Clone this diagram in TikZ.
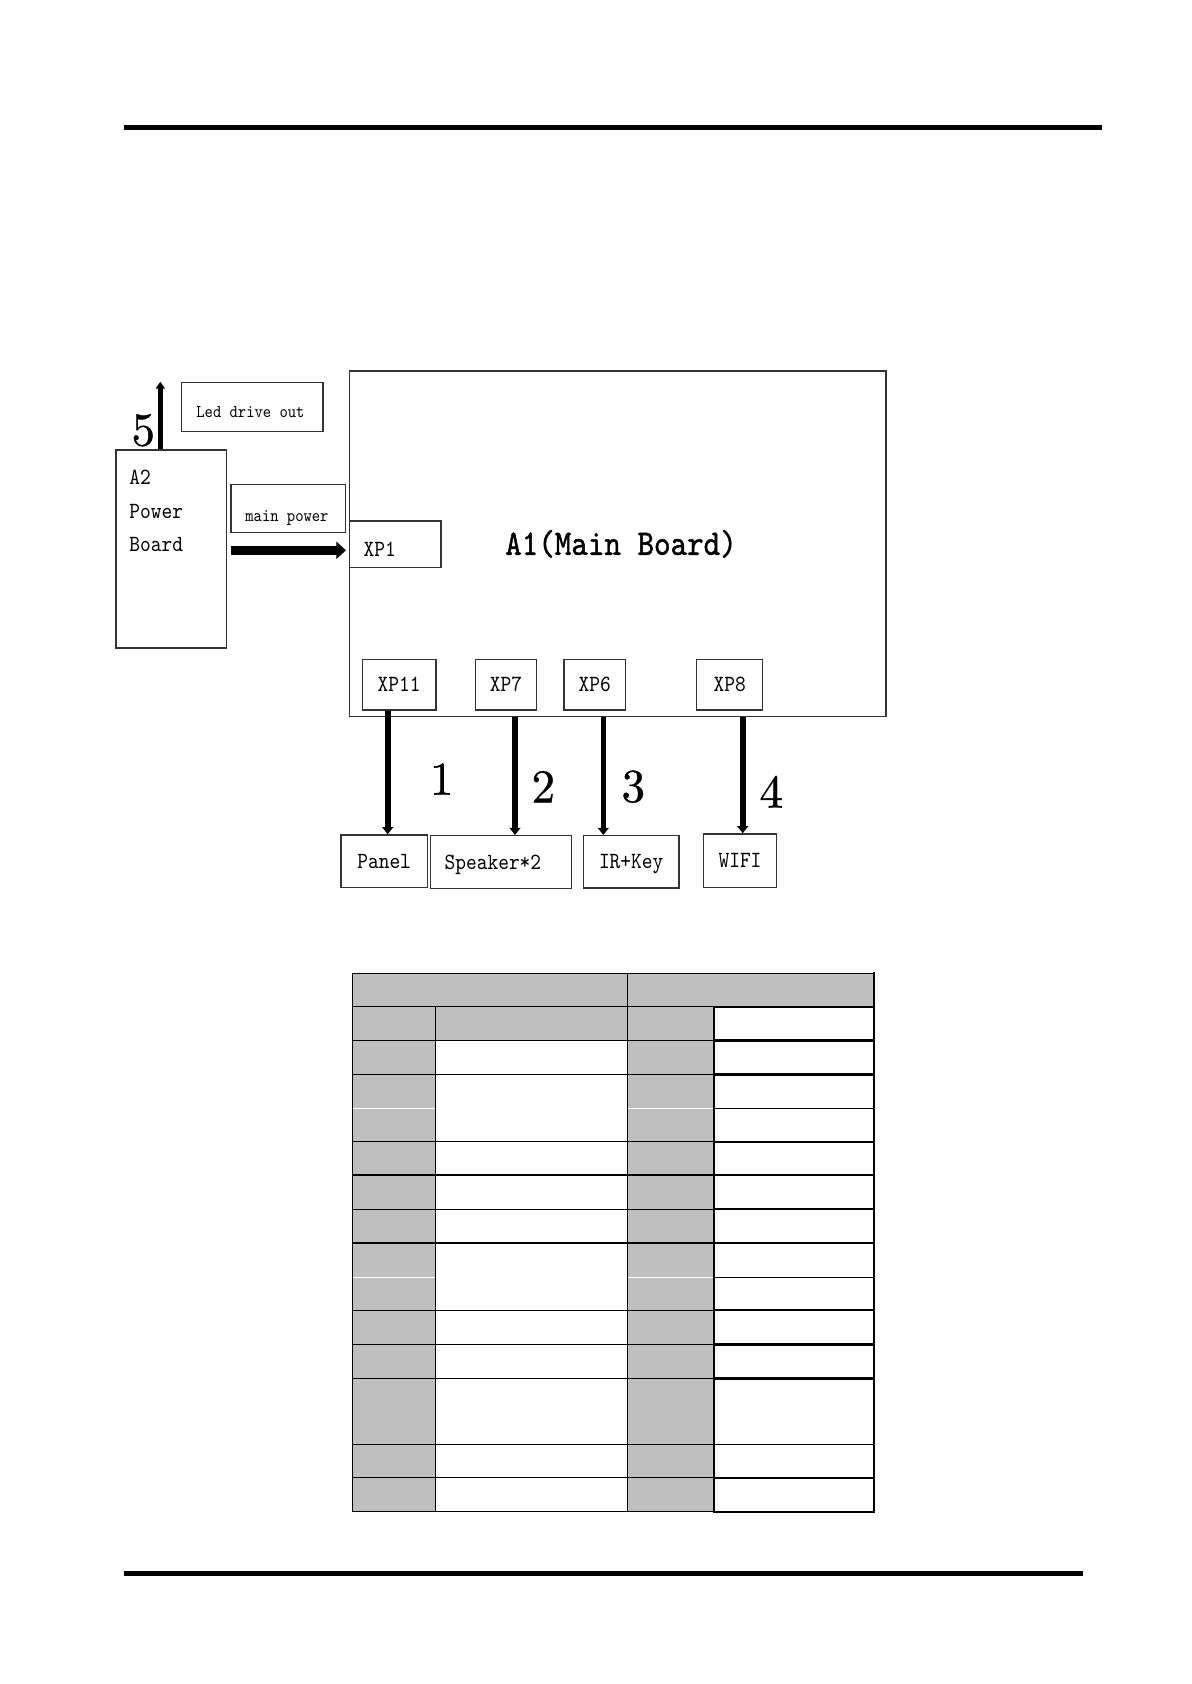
\documentclass[tikz,border=0pt]{standalone}
\usepackage{fontspec}
\usetikzlibrary{arrows.meta}
\newfontfamily\simfont[Extension=.otf,FakeStretch=0.88]{lmmono10-regular}
\newfontfamily\simbold[Extension=.otf,FakeStretch=0.88,FakeBold=1.2]{lmmono10-regular}
\newfontfamily\numfont[Extension=.otf,FakeBold=0.8]{lmroman10-regular}
\newcommand\fsz[1]{\fontsize{#1pt}{#1pt}\selectfont}
\definecolor{cellgray}{RGB}{191,191,191}

\begin{document}
\begin{tikzpicture}[
    x=0.5pt, y=-0.5pt,
    box/.style={draw=black!80, line width=0.7pt, inner sep=0pt, text depth=0pt,
      font=\simfont\fsz{11.6}},
    lab/.style={inner sep=0pt, anchor=base west, font=\simfont\fsz{11.6}},
    small/.style={lab, font=\simfont\fsz{9}},
    num/.style={inner sep=0pt, font=\numfont\fsz{23.5}},
    wire/.style={line width=2.8pt, -{Triangle[length=3.6pt,width=5.4pt]}},
    upwire/.style={line width=2.4pt, -{Triangle[length=3.5pt,width=4.6pt]}},
    fatwire/.style={line width=4.7pt, -{Triangle[length=4.8pt,width=8.4pt]}},
    rule/.style={line width=2.5pt},
    tline/.style={line width=0.6pt},
    tthick/.style={line width=1.1pt}
  ]
  \useasboundingbox (0,0) rectangle (1191,1684);

  \draw[rule] (123.5,127.5) -- (1102,127.5);
  \draw[rule] (123.5,1573.4) -- (1082.6,1573.4);

  % boards
  \node[box, minimum width=268.15pt, minimum height=172.85pt] (a1) at (617.85,543.85) {};
  \node[inner sep=0pt, font=\simbold\fsz{17.9}] (a1txt) at (621,543.85) {A1(Main Board)};
  \node[box, minimum width=55.3pt, minimum height=99pt] (a2) at (171.3,549) {};
  \node[lab] (a2l1) at (129,484) {A2};
  \node[lab] (a2l2) at (129,518.3) {Power};
  \node[lab] (a2l3) at (129,551) {Board};

  \node[box, minimum width=70.65pt, minimum height=24.5pt] (led) at (252.35,407.2) {};
  \node[small] (ledtxt) at (196,418) {Led drive out};
  \node[box, minimum width=57.35pt, minimum height=23.8pt] (pwr) at (288.35,508.5) {};
  \node[small] (pwrtxt) at (245,521) {main power};

  % connectors on A1
  \node[box, minimum width=45.65pt, minimum height=23.15pt] (xp1) at (395.35,544.15) {};
  \node[lab] (xp1txt) at (363.3,556.7) {XP1};
  \node[box, minimum width=36.85pt, minimum height=25.35pt] (xp11) at (399.15,684.65) {XP11};
  \node[box, minimum width=30.7pt, minimum height=25.35pt] (xp7) at (506,684.65) {XP7};
  \node[box, minimum width=30.65pt, minimum height=25.35pt] (xp6) at (594.65,684.65) {XP6};
  \node[box, minimum width=33pt, minimum height=25.35pt] (xp8) at (729.7,684.65) {XP8};

  % loads
  \node[box, minimum width=43.15pt, minimum height=26.15pt] (panel) at (384.15,861.15) {Panel};
  \node[box, minimum width=70.5pt, minimum height=26.3pt, text width=56.5pt, align=left]
    (spk) at (501.2,862) {Speaker*2};
  \node[box, minimum width=47.85pt, minimum height=26.15pt] (irk) at (631.15,861.85) {IR+Key};
  \node[box, minimum width=36.7pt, minimum height=26.65pt] (wifi) at (740,860.65) {WIFI};

  \coordinate (ledtop) at (160.3,381.7);
  \draw[upwire] (a2.north -| ledtop) -- (ledtop);
  \draw[fatwire, shorten <=1.7pt, shorten >=1.5pt] (a2.east |- 0,550.3) -- (xp1.west |- 0,550.3);
  \foreach \x/\s/\t in {387.7/xp11/panel, 515/a1/spk, 603.3/a1/irk, 742.7/a1/wifi}
    \draw[wire] (\x,0 |- \s.south) -- (\x,0 |- \t.north);

  \node[num] (n1) at (441.7,779) {1};
  \node[num] (n2) at (543.3,786.7) {2};
  \node[num] (n3) at (633.3,786.7) {3};
  \node[num] (n4) at (771.3,791.7) {4};
  \node[num] (n5) at (143.3,430.3) {5};

  % table
  \fill[cellgray] (352.7,973.3) rectangle (874,1006.8);
  \fill[cellgray] (352.7,1006.8) rectangle (713.7,1040.5);
  \fill[cellgray] (352.7,1040.5) rectangle (435.3,1511.7);
  \fill[cellgray] (627.5,1040.5) rectangle (713.7,1511.7);
  \foreach \y in {1108.5,1277.5}
    \draw[white, line width=0.8pt] (352.7,\y) -- (435.3,\y) (627.5,\y) -- (713.7,\y);
  \draw[tline] (352.7,973.3) -- (874,973.3);
  \foreach \y in {1006.8,1040.5,1074.5,1141.7,1175,1209.3,1243,1310.3,1344.5,1378.5,1444.3,1477.7,1511.7}
    \draw[tline] (352.7,\y) -- (713.7,\y);
  \draw[tline] (352.7,973.3) -- (352.7,1511.7) (435.3,1006.8) -- (435.3,1511.7)
    (627.5,973.3) -- (627.5,1511.7);
  \foreach \y in {1006.8,1040.5,1074.5,1141.7,1175,1209.3,1243,1310.3,1344.5,1378.5,1477.7,1511.7}
    \draw[tthick, line cap=rect] (713.7,\y) -- (874,\y);
  \foreach \y in {1108.5,1277.5,1444.3}
    \draw[tline] (713.7,\y) -- (874,\y);
  \draw[tthick, line cap=rect] (713.7,1006.8) -- (713.7,1511.7) (874,973.3) -- (874,1511.7);
\end{tikzpicture}
\end{document}
